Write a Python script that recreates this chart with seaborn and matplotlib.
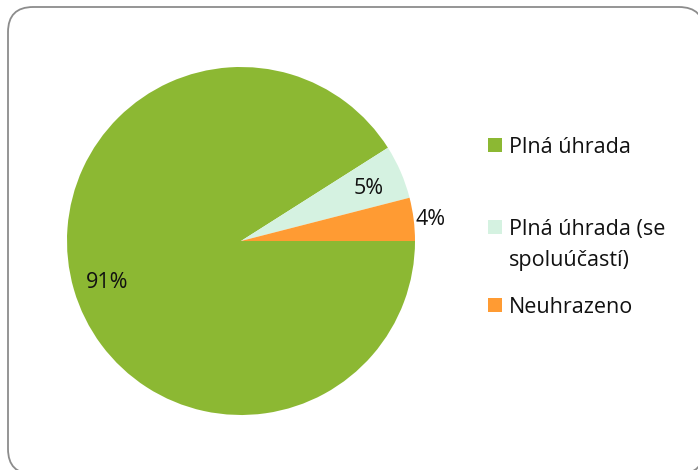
import numpy as np
import seaborn as sns
import matplotlib.pyplot as plt
from matplotlib.patches import FancyBboxPatch, Rectangle

# ---------- data ----------
labels = ['Plná úhrada', 'Plná úhrada (se\nspoluúčastí)', 'Neuhrazeno']
shares = [91, 5, 4]
colors = ['#8CB833', '#D5F2E1', '#FF9B33']

sns.set_theme(style='white')
plt.rcParams['font.family'] = ['Open Sans', 'DejaVu Sans']
FS = 15.5

W, H = 698, 470
fig = plt.figure(figsize=(W / 100, H / 100), dpi=100)

# rounded frame like an Excel chart area (runs off the right/bottom edge)
frame = FancyBboxPatch((8 / W, -4 / H), 696 / W, (H + 4 - 7) / H,
                       boxstyle='round,pad=0,rounding_size=0.036',
                       transform=fig.transFigure, fc='white', ec='#8c8c8c', lw=1.3,
                       mutation_aspect=W / H, zorder=-5)
fig.patches.append(frame)

# pie axes: centre (241,241), radius 174 px
ax = fig.add_axes([67 / W, 1 - 415 / H, 348 / W, 348 / H])
ax.set_facecolor('none')
wedges, texts, autotexts = ax.pie(shares, colors=colors, startangle=0, counterclock=False,
                                  autopct='%d%%', pctdistance=0.8,
                                  wedgeprops=dict(linewidth=0),
                                  textprops=dict(fontsize=FS, color='#111111'))
ax.set_xlim(-1, 1)
ax.set_ylim(-1, 1)
ax.set_aspect('equal')
for t in autotexts:
    t.set_va('center_baseline')

# small slice label sits outside
w = wedges[-1]
mid = np.deg2rad((w.theta1 + w.theta2) / 2)
autotexts[-1].set_position((1.1 * np.cos(mid), 1.1 * np.sin(mid)))

# legend drawn by hand to keep Excel spacing
leg_y = [145, 227, 305]
for lab, c, y in zip(labels, colors, leg_y):
    fig.patches.append(Rectangle((488 / W, 1 - (y + 7) / H), 14 / W, 14 / H,
                                 transform=fig.transFigure, fc=c, ec='none'))
    lines = lab.split('\n')
    for k, line in enumerate(lines):
        fig.text(509 / W, 1 - (y + 31 * k) / H, line, fontsize=FS,
                 color='#111111', va='center_baseline', ha='left')

fig.savefig('out.png', dpi=100)
